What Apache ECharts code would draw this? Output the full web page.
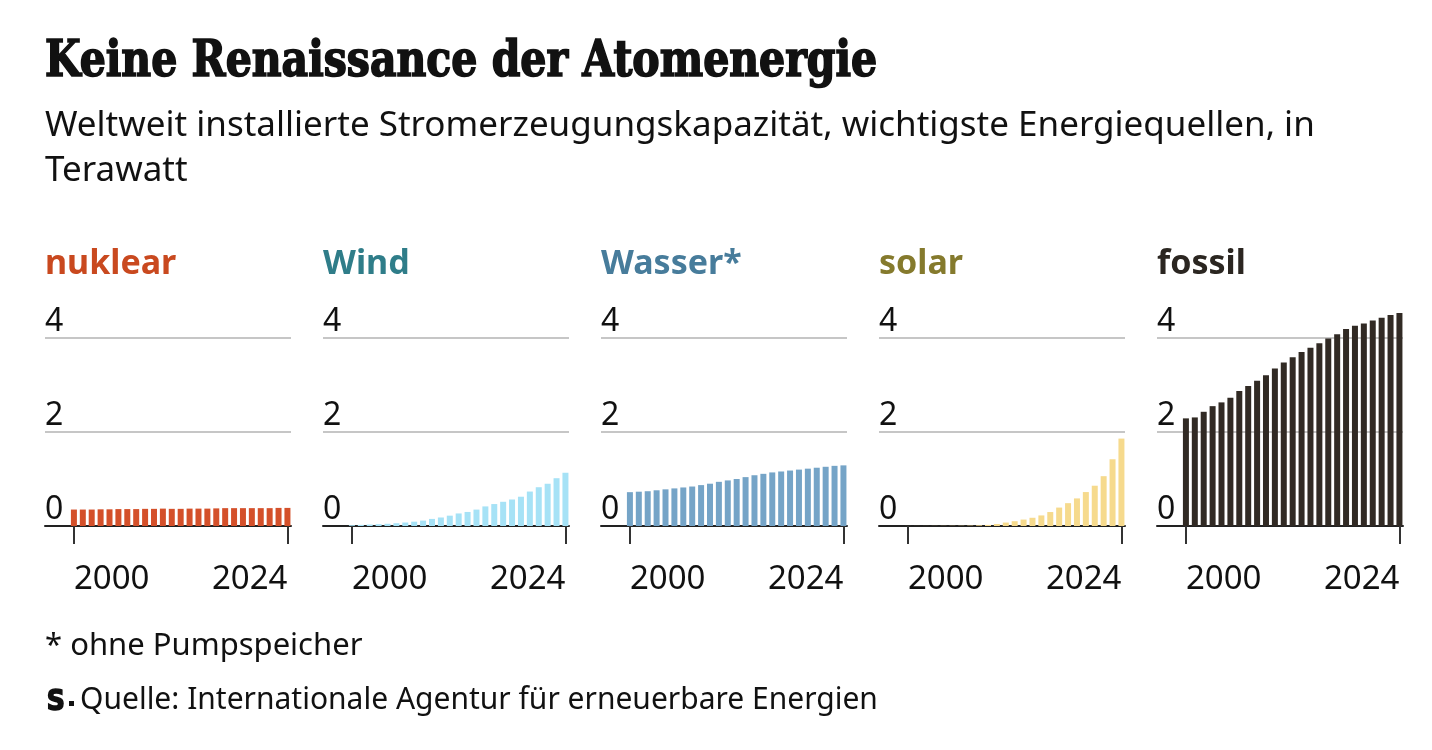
<!DOCTYPE html>
<html><head><meta charset="utf-8">
<script src="https://cdn.jsdelivr.net/npm/echarts@6/dist/echarts.min.js"></script>
<style>html,body{margin:0;padding:0;background:#fff}#c{width:1432px;height:750px}</style>
</head><body><div id="c"></div>
<script>
// ---- data ----
const years = [2000,2001,2002,2003,2004,2005,2006,2007,2008,2009,2010,2011,2012,2013,2014,2015,2016,2017,2018,2019,2020,2021,2022,2023,2024];
const nuklear = [0.35,0.35,0.35,0.355,0.355,0.36,0.36,0.36,0.365,0.365,0.37,0.365,0.365,0.37,0.37,0.37,0.375,0.38,0.38,0.38,0.38,0.38,0.38,0.385,0.385];
const wind = [0.017,0.024,0.031,0.039,0.047,0.059,0.074,0.092,0.115,0.151,0.181,0.220,0.267,0.299,0.349,0.417,0.467,0.515,0.564,0.623,0.733,0.825,0.899,1.017,1.133];
const wasser = [0.72,0.73,0.74,0.76,0.78,0.80,0.82,0.84,0.87,0.90,0.94,0.97,1.00,1.04,1.08,1.11,1.14,1.16,1.18,1.20,1.22,1.24,1.26,1.28,1.29];
const solar = [0.001,0.001,0.001,0.002,0.003,0.004,0.005,0.008,0.015,0.023,0.042,0.073,0.102,0.137,0.175,0.225,0.297,0.392,0.486,0.587,0.722,0.857,1.06,1.42,1.86];
const fossil = [2.29,2.31,2.43,2.55,2.63,2.73,2.87,2.98,3.09,3.21,3.35,3.48,3.59,3.70,3.79,3.89,3.99,4.08,4.19,4.26,4.31,4.37,4.43,4.49,4.53];
const panelNames = ['nuklear','Wind','Wasser*','solar','fossil'];
const yTicks = [0,2,4];
const xTickYears = [2000, 2024];
const titleText = 'Keine Renaissance der Atomenergie';
const subtitleText = 'Weltweit installierte Stromerzeugungskapazität, wichtigste Energiequellen, in\nTerawatt';
const noteText = '* ohne Pumpspeicher';
const sourceText = 'Quelle: Internationale Agentur für erneuerbare Energien';

// ---- styles ----
const seriesData = [nuklear, wind, wasser, solar, fossil];
const titleColors = ['#c9491f','#2f7d89','#477c9b','#857a2d','#2b2621'];
const barColors = ['#d4502a','#a6e2f6','#75a4c7','#f6da8d','#312a24'];
const SANS = '"Noto Sans", "Open Sans", sans-serif';

const chart = echarts.init(document.getElementById('c'), null, {renderer:'canvas'});
const grids = [], xAxes = [], yAxes = [], series = [], graphics = [];
for (let i = 0; i < 5; i++) {
  const left = 45 + 278 * i;
  grids.push({left: left, top: 338, width: 246, height: 188, containLabel: false});
  xAxes.push({
    gridIndex: i, type: 'value', min: 1996.75, max: 2024.4,
    axisLine: {show: true, onZero: true, lineStyle: {color: '#222', width: 2}},
    axisTick: {show: true, customValues: xTickYears, length: 18, lineStyle: {color: '#333', width: 2}},
    axisLabel: {show: true, customValues: xTickYears, fontFamily: SANS, fontSize: 33, color: '#111', margin: 37,
      alignMinLabel: 'left', alignMaxLabel: 'right', formatter: v => String(v)},
    splitLine: {show: false}
  });
  yAxes.push({
    gridIndex: i, type: 'value', min: 0, max: 4, interval: 2,
    axisLine: {show: false}, axisTick: {show: false},
    splitLine: {show: true, lineStyle: {color: '#c6c6c6', width: 2}},
    axisLabel: {show: true, inside: true, margin: 0, verticalAlign: 'bottom', align: 'left',
      fontFamily: SANS, fontSize: 32, color: '#111', padding: [0,0,0,0],
      customValues: yTicks}
  });
  series.push({
    type: 'bar', xAxisIndex: i, yAxisIndex: i, barWidth: 6, clip: false, silent: true,
    itemStyle: {color: barColors[i]},
    data: seriesData[i].map((v, k) => [years[k], v])
  });
  graphics.push({type: 'text', left: left, top: 247,
    style: {text: panelNames[i], font: 'bold 34px ' + SANS, fill: titleColors[i]}});
}
graphics.push({type: 'text', x: 45, y: 38, scaleX: 0.912,
  style: {text: titleText, font: 'bold 50px "DejaVu Serif Condensed", "DejaVu Serif", serif', fill: '#111',
    stroke: '#111', lineWidth: 1.6, textVerticalAlign: 'top'}});
graphics.push({type: 'text', left: 45, top: 104,
  style: {text: subtitleText, font: '35px ' + SANS, fill: '#111', lineHeight: 45}});
graphics.push({type: 'text', left: 45, top: 631,
  style: {text: noteText, font: '31px ' + SANS, fill: '#111'}});
graphics.push({type: 'text', left: 46, top: 688,
  style: {text: 'S', font: 'bold 28px "DejaVu Sans Condensed", "DejaVu Sans", sans-serif', fill: '#111', stroke: '#111', lineWidth: 1.5}});
graphics.push({type: 'rect', shape: {x: 69, y: 701, width: 5, height: 5}, style: {fill: '#111'}});
graphics.push({type: 'text', left: 80, top: 685,
  style: {text: sourceText, font: '30px ' + SANS, fill: '#111'}});

chart.setOption({
  animation: false,
  backgroundColor: '#fff',
  grid: grids, xAxis: xAxes, yAxis: yAxes, series: series, graphic: graphics
});
</script></body></html>
